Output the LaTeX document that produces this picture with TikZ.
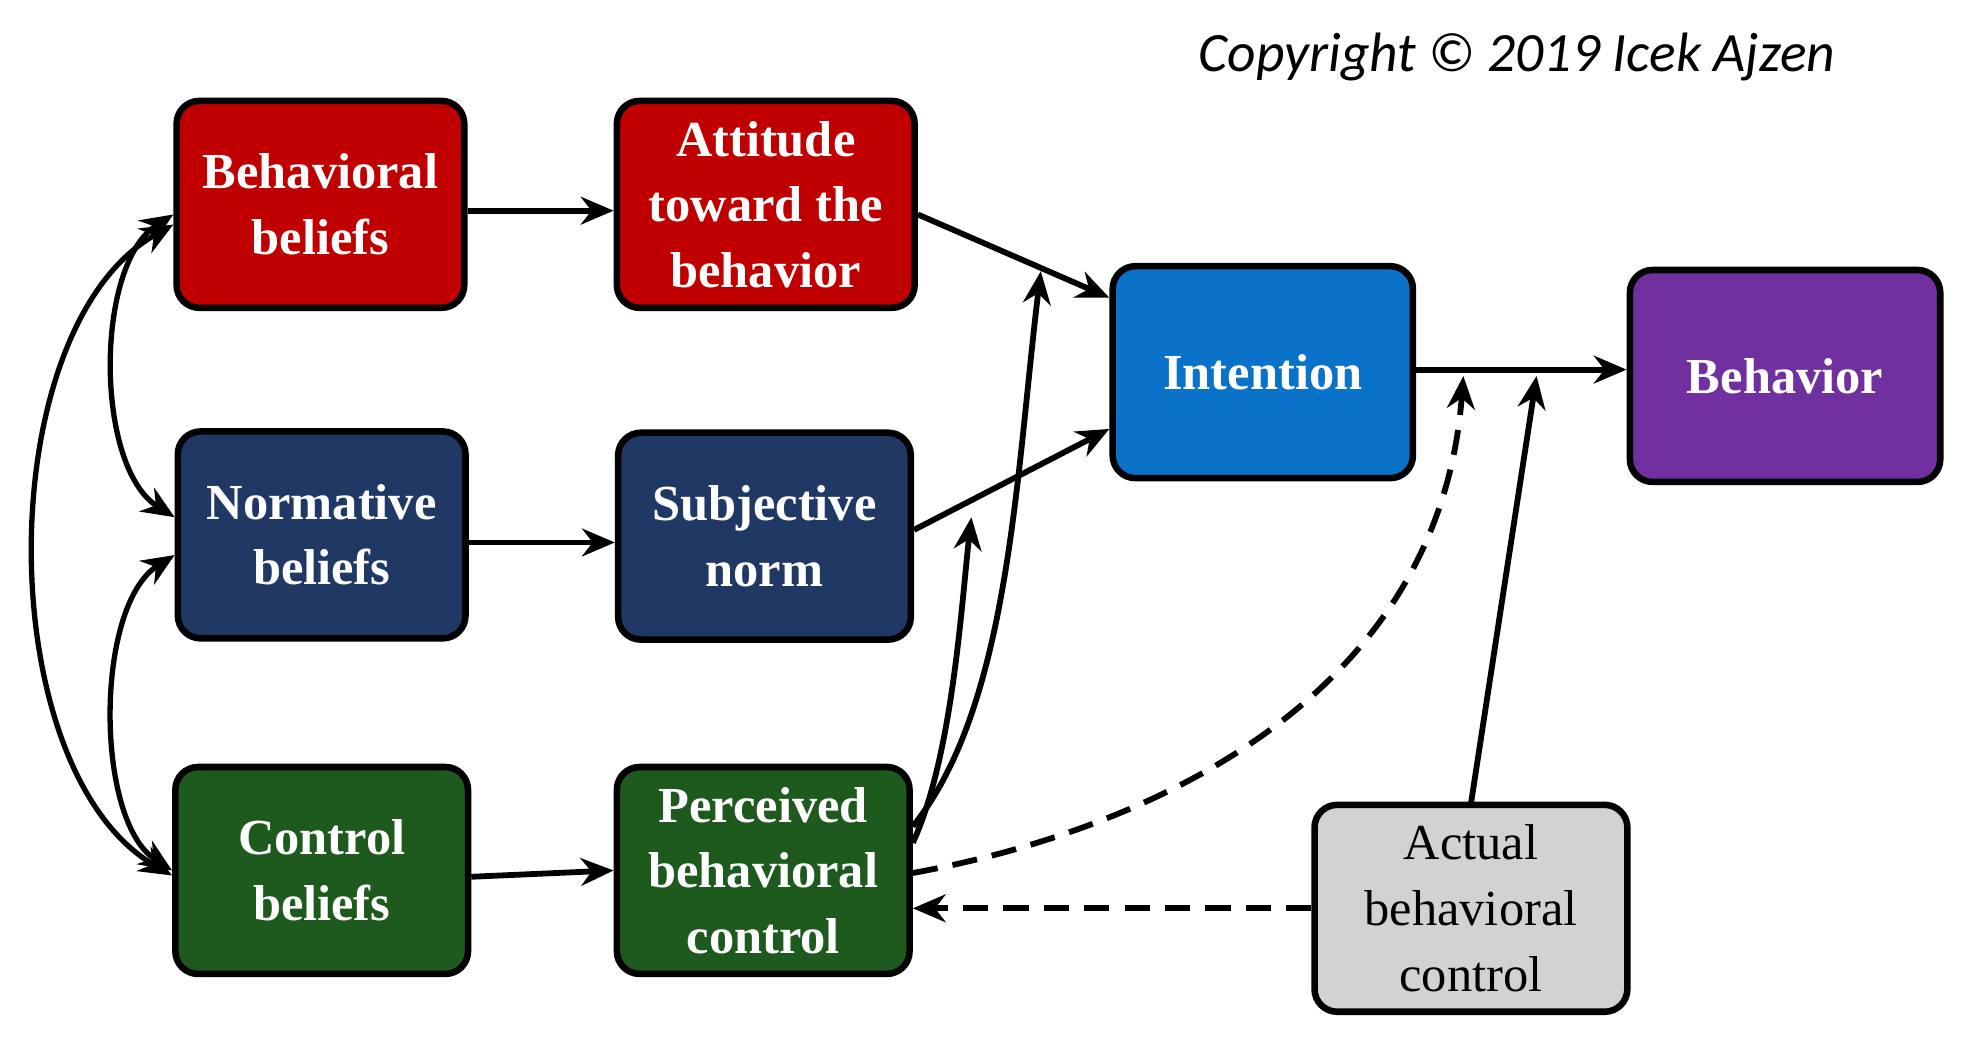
\documentclass[tikz,border=0pt]{standalone}
\usepackage{fontspec}
\setmainfont{Liberation Serif}
\newfontfamily\copyfont{Carlito}
\usetikzlibrary{arrows.meta}
\definecolor{cred}{HTML}{C00000}
\definecolor{cnavy}{HTML}{203864}
\definecolor{cgreen}{HTML}{1E5A1E}
\definecolor{cblue}{HTML}{0A72C8}
\definecolor{cpurple}{HTML}{7030A0}
\definecolor{cgray}{HTML}{D2D2D2}
\begin{document}
\begin{tikzpicture}[x=0.5pt,y=-0.5pt,
  box/.style={draw=black,line width=2.6pt,rounded corners=9pt,minimum width=114pt,minimum height=82pt,align=center,text=white,font=\fontsize{20}{26}\selectfont\bfseries,inner sep=0pt},
  arr/.style={line width=2.3pt,-{Stealth[length=13pt,width=11pt]}},
  darr/.style={line width=2.1pt,{Stealth[length=13pt,width=11pt]}-{Stealth[length=13pt,width=11pt]}},
  dashedarr/.style={arr,dash pattern=on 10pt off 6pt}]
\useasboundingbox (0,0) rectangle (1560,830);
\node[box,fill=cred] (bb) at (254,162) {Behavioral\\beliefs};
\node[box,fill=cred,minimum width=118pt] (att) at (607,162) {Attitude\\toward the\\behavior};
\node[box,fill=cnavy] (nb) at (255,424) {Normative\\beliefs};
\node[box,fill=cnavy,minimum width=116pt] (sn) at (606,425) {Subjective\\norm};
\node[box,fill=cgreen,minimum width=116pt] (cb) at (255,690) {Control\\beliefs};
\node[box,fill=cgreen,minimum width=116pt] (pbc) at (605,690) {Perceived\\behavioral\\control};
\node[box,fill=cblue,minimum width=119pt,minimum height=84pt] (int) at (1001,295) {Intention};
\node[box,fill=cpurple,minimum width=123pt,minimum height=84pt] (beh) at (1415,298) {Behavior};
\node[box,fill=cgray,text=black,font=\fontsize{20}{26}\selectfont,minimum width=124pt] (abc) at (1166,720) {Actual\\behavioral\\control};
\node[font=\copyfont\itshape\fontsize{22}{26}\selectfont,anchor=east] (copy) at (1462,45) {Copyright © 2019 Icek Ajzen};
\coordinate (t1) at (825,215);
\coordinate (t2) at (770,410);
\coordinate (t3) at (1160,298);
\coordinate (t4) at (1218,298);
\draw[arr] (bb.east|-0,167) -- (att.west|-0,167);
\draw[arr] (nb.east|-0,430) -- (sn.west|-0,430);
\draw[arr] (cb.east|-0,695) -- (pbc.west|-0,690);
\draw[arr] (att.east|-0,170) -- (int.west|-0,236);
\draw[arr] (sn.east|-0,420) -- (int.west|-0,340);
\draw[arr] (int.east|-0,293) -- (beh.west|-0,293);
\draw[arr] (pbc.east|-0,655) .. controls (800,560) and (805,380) .. (t1);
\draw[arr] (pbc.east|-0,668) .. controls (755,600) and (762,480) .. (t2);
\draw[dashedarr] (pbc.east|-0,692) .. controls (900,660) and (1140,560) .. (t3);
\draw[dashedarr] (abc.west|-0,720) -- (pbc.east|-0,720);
\draw[arr] (abc.north|-0,637) -- (t4);
\draw[darr] (bb.west|-0,170) .. controls (75,210) and (75,370) .. (nb.west|-0,410);
\draw[darr] (nb.west|-0,440) .. controls (75,480) and (75,650) .. (cb.west|-0,690);
\draw[darr] (bb.west|-0,178) .. controls (-8,260) and (-8,610) .. (cb.west|-0,694);
\end{tikzpicture}
\end{document}
